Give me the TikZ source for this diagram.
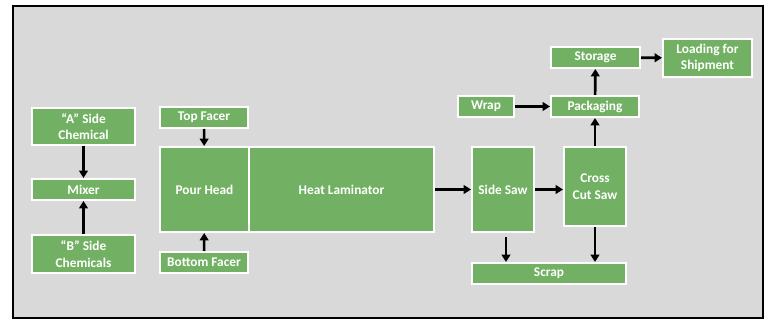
\documentclass[tikz,border=0pt]{standalone}
\usepackage{fontspec}
\setmainfont{Carlito}
\usetikzlibrary{arrows.meta, positioning}
\definecolor{boxgreen}{RGB}{114,177,99}
\definecolor{panelgray}{RGB}{217,217,217}
\tikzstyle{stage} = [rectangle, minimum height=15.75pt, inner sep=0pt, text centered, align=center, draw=white, line width=1.5pt, fill=boxgreen, text=white, font=\bfseries\fontsize{10}{12.5}\selectfont]
\tikzstyle{arrow} = [line width=2pt,->,>={Triangle[length=5.5pt,width=6.5pt]}]
\begin{document}
\begin{tikzpicture}[x=0.75pt, y=-0.75pt]
        \useasboundingbox (0,0) rectangle (770,320);
        \draw [fill=panelgray, line width=1.1pt] (13,6) rectangle (763,318);

        % chemicals
        \node (achem) [stage, minimum width=77.25pt, minimum height=27.75pt] at (83.5,126.5) {“A” Side\\Chemical};
        \node (mixer) [stage, minimum width=77.25pt] at (83.5,189.5) {Mixer};
        \node (bchem) [stage, minimum width=77.25pt, minimum height=28.5pt] at (83.5,254) {“B” Side\\Chemicals};

        % facers and line
        \node (topfacer) [stage, minimum width=66pt] at (204,117.5) {Top Facer};
        \node (pour) [stage, minimum width=66.75pt, minimum height=63.75pt] at (204.5,189.5) {Pour Head};
        \node (heat) [stage, minimum width=138.75pt, minimum height=63.75pt, right=-1.5pt of pour] {Heat Laminator};
        \node (botfacer) [stage, minimum width=66pt] at (204,262.5) {Bottom Facer};

        % cutting and shipping
        \node (sidesaw) [stage, minimum width=46.5pt, minimum height=63.75pt] at (503,189.5) {Side Saw};
        \node (crosscut) [stage, minimum width=46.5pt, minimum height=59.25pt] at (595,186.5) {Cross\\Cut Saw};
        \node (scrap) [stage, minimum width=115.5pt] at (549,273.5) {Scrap};
        \node (wrap) [stage, minimum width=42pt] at (486,106.5) {Wrap};
        \node (packaging) [stage, minimum width=66pt] at (595,106.5) {Packaging};
        \node (storage) [stage, minimum width=66.75pt] at (595.5,57.5) {Storage};
        \node (loading) [stage, minimum width=66.75pt, minimum height=28.5pt] at (707.5,58) {Loading for\\Shipment};

        \draw [arrow] (achem) -- (mixer);
        \draw [arrow] (bchem) -- (mixer);
        \draw [arrow] (topfacer) -- (pour);
        \draw [arrow] (botfacer) -- (pour);
        \draw [arrow] (heat) -- (sidesaw);
        \draw [arrow] (sidesaw.east) -- (sidesaw.east -| crosscut.west);
        \draw [arrow] ([xshift=2.25pt, yshift=-3pt]sidesaw.south) -- ([xshift=2.25pt]sidesaw.south |- scrap.north);
        \draw [arrow] (crosscut.south) -- (crosscut.south |- scrap.north);
        \draw [arrow] (crosscut) -- (packaging);
        \draw [arrow] (wrap) -- (packaging);
        \draw [arrow] (packaging) -- (storage);
        \draw [arrow] (storage) -- (loading);
\end{tikzpicture}
\end{document}
